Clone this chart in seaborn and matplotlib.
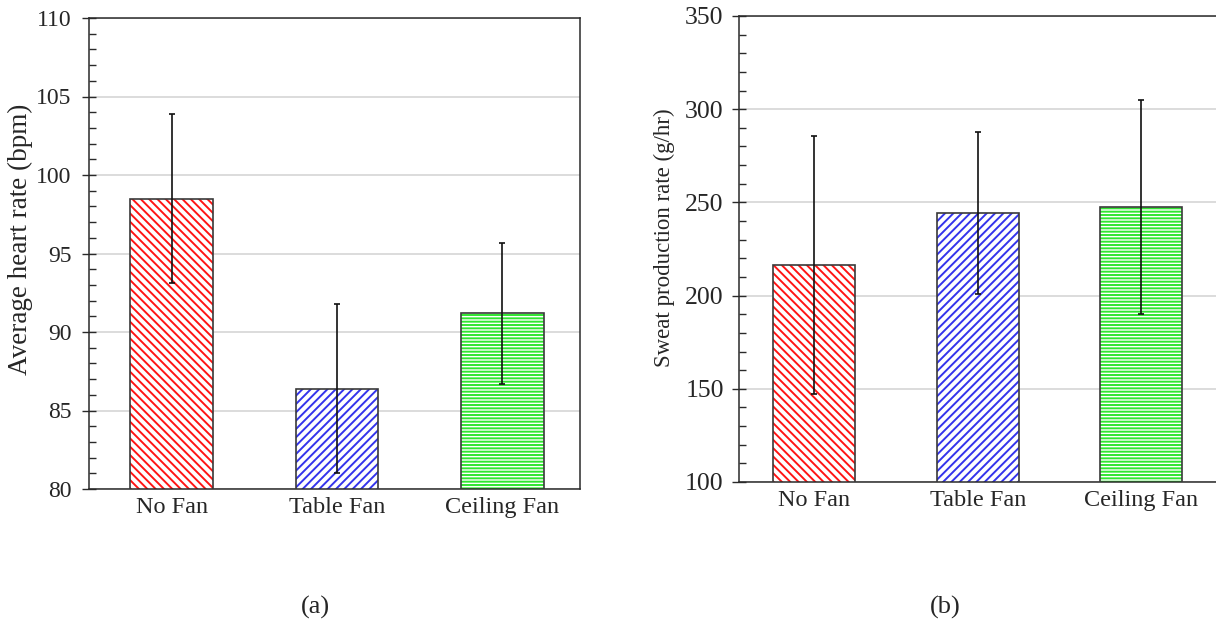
import matplotlib
matplotlib.use("Agg")
import matplotlib.pyplot as plt
import numpy as np
import pandas as pd
import seaborn as sns
from matplotlib.ticker import MultipleLocator

# Thermal-comfort trial results per fan condition (mean and SD)
conditions = ["No Fan", "Table Fan", "Ceiling Fan"]
heart_rate_mean = [98.5, 86.4, 91.2]
heart_rate_sd = [5.4, 5.4, 4.5]
sweat_rate_mean = [216.4, 244.3, 247.5]
sweat_rate_sd = [69.0, 43.4, 57.2]
heart_rate_ticks = [80, 85, 90, 95, 100, 105, 110]
sweat_rate_ticks = [100, 150, 200, 250, 300, 350]
panel_labels = ["(a)", "(b)"]
y_labels = ["Average heart rate (bpm)", "Sweat production rate (g/hr)"]

hatch_colors = ["#ff1414", "#3434ec", "#2fe62f"]
hatch_patterns = ["\\\\\\\\", "////", "-----"]

sns.set_style("white")
plt.rcParams["font.family"] = ["Liberation Serif", "DejaVu Serif"]
plt.rcParams["hatch.linewidth"] = 1.4

W, H = 1216, 633
fig = plt.figure(figsize=(W / 100, H / 100), dpi=100)

ax_a = fig.add_axes([89 / W, (H - 489) / H, 491 / W, 471 / H])
ax_b = fig.add_axes([739 / W, (H - 482) / H, 484 / W, 466 / H])


def draw_panel(ax, means, sds, ticks, minor_step, ylabel, xlim, label_xy,
               ytick_size, ylabel_size, ypad):
    df = pd.DataFrame({"condition": conditions, "value": means})
    # hatched fill, hatch colour taken from the bar edge colour
    sns.barplot(data=df, x="condition", y="value", hue="condition",
                palette=["white"] * len(conditions), legend=False,
                width=0.5, linewidth=0, ax=ax, zorder=2)
    for patch, col, hatch in zip(ax.patches, hatch_colors, hatch_patterns):
        patch.set_edgecolor(col)
        patch.set_hatch(hatch)
        patch.set_linewidth(0)
    # dark outline on top of each bar
    sns.barplot(data=df, x="condition", y="value", fill=False, width=0.5,
                edgecolor="#3a3a3a", linewidth=1.2, ax=ax, zorder=3)
    pos = np.arange(len(conditions))
    ax.errorbar(pos, means, yerr=sds, fmt="none", ecolor="#111111",
                elinewidth=1.2, capsize=2.5, capthick=1.2, zorder=5)

    ax.set_ylim(ticks[0], ticks[-1])
    ax.set_yticks(ticks)
    ax.yaxis.set_minor_locator(MultipleLocator(minor_step))
    ax.set_xlim(*xlim)
    ax.set_axisbelow(True)
    ax.grid(axis="y", which="major", color="#dcdcdc", linewidth=1.4, zorder=0)
    ax.grid(axis="x", visible=False)

    for side in ["left", "bottom", "top", "right"]:
        ax.spines[side].set_visible(True)
        ax.spines[side].set_color("#2a2a2a")
        ax.spines[side].set_linewidth(1.1)

    ax.tick_params(axis="y", which="major", direction="inout", length=10,
                   width=1.0, color="#2a2a2a", labelsize=ytick_size, pad=ypad,
                   left=True)
    ax.tick_params(axis="y", which="minor", direction="in", length=5,
                   width=1.0, color="#2a2a2a", left=True)
    ax.tick_params(axis="x", which="both", length=0, labelsize=17.5, pad=6)

    ax.set_xlabel("")
    ax.set_ylabel(ylabel, fontsize=ylabel_size)
    ax.yaxis.set_label_coords(*label_xy)


draw_panel(ax_a, heart_rate_mean, heart_rate_sd, heart_rate_ticks, 1,
           y_labels[0], (-0.5, 2.47), (-0.114, 0.53), 17, 19.5, 7.5)
draw_panel(ax_b, sweat_rate_mean, sweat_rate_sd, sweat_rate_ticks, 10,
           y_labels[1], (-0.46, 2.5), (-0.132, 0.525), 18.5, 16.5, 6)

fig.text(315 / W, 1 - 607 / H, panel_labels[0], ha="center", va="center",
         fontsize=19)
fig.text(945 / W, 1 - 607 / H, panel_labels[1], ha="center", va="center",
         fontsize=19)

fig.savefig("out.png", dpi=100, facecolor="white")
